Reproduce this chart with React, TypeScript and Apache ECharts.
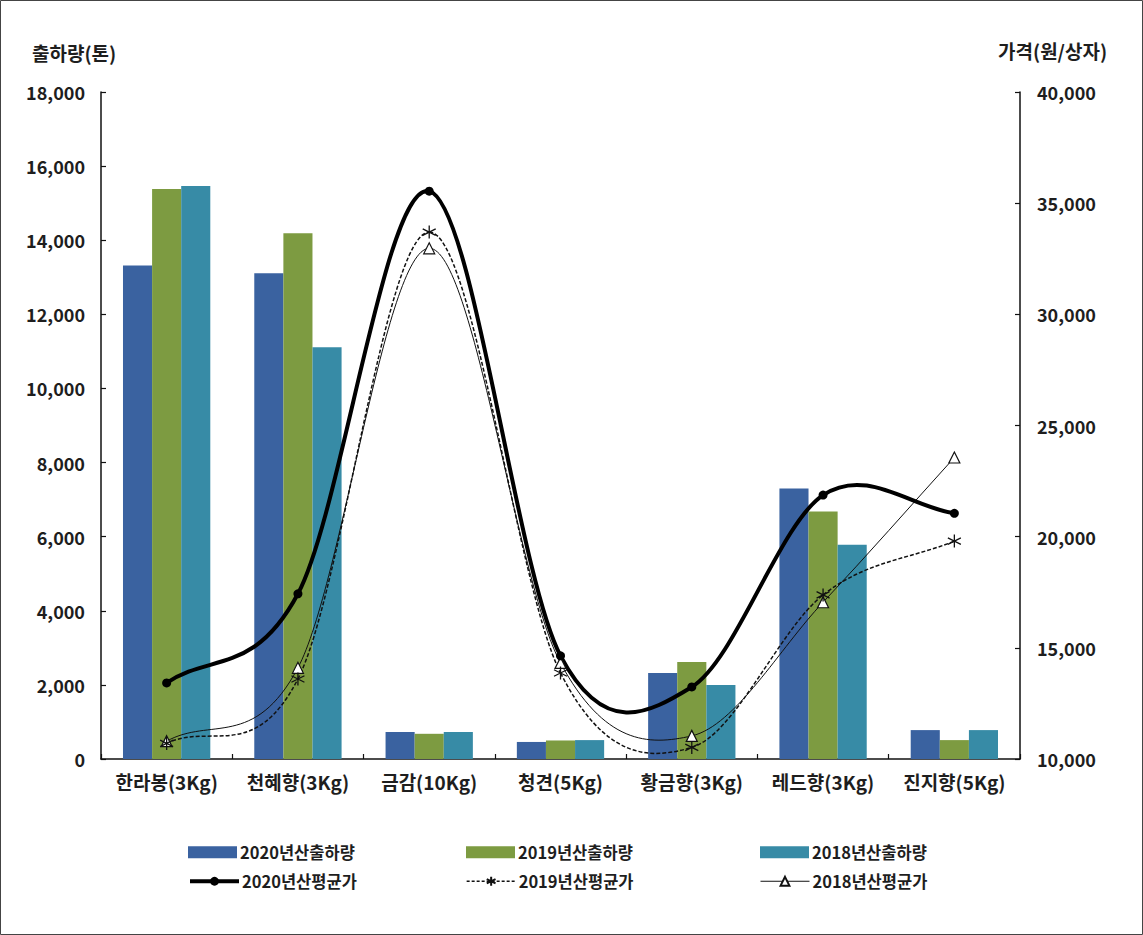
import React, { useEffect, useRef } from 'react';
import * as echarts from 'echarts';

const categories = ['한라봉(3Kg)', '천혜향(3Kg)', '금감(10Kg)', '청견(5Kg)', '황금향(3Kg)', '레드향(3Kg)', '진지향(5Kg)'];
const ship2020 = [13320, 13110, 730, 460, 2320, 7300, 780];
const ship2019 = [15380, 14190, 680, 500, 2620, 6680, 510];
const ship2018 = [15460, 11110, 730, 510, 2000, 5780, 780];
const price2020 = [13420, 17430, 35540, 14640, 13240, 21870, 21050];
const price2019 = [10700, 13600, 33700, 13870, 10520, 17380, 19800];
const price2018 = [10800, 14100, 32970, 14320, 11040, 17050, 23560];

const seriesNames = ['2020년산출하량', '2019년산출하량', '2018년산출하량', '2020년산평균가', '2019년산평균가', '2018년산평균가'];
const leftAxisName = '출하량(톤)';
const rightAxisName = '가격(원/상자)';

const FONT = '"Noto Sans CJK KR", "Noto Sans", sans-serif';
const TXT = '#1e1e1e';

// Catmull-Rom style spline segments (Excel-like smoothing) drawn through the chart's own scales
function splineSeries(values: number[], style: any, z: number) {
  return {
    type: 'custom',
    yAxisIndex: 1,
    silent: true,
    z,
    data: values.map((v, i) => [i, v]),
    encode: { x: 0, y: 1 },
    renderItem: (params: any, api: any) => {
      const i = params.dataIndex;
      const n = values.length;
      if (i >= n - 1) return null;
      const p = (k: number) => api.coord([k, values[k]]);
      const p0 = p(i);
      const p1 = p(i + 1);
      const prev = i > 0 ? p(i - 1) : null;
      const next = i + 2 < n ? p(i + 2) : null;
      const t0 = prev ? [(p1[0] - prev[0]) / 2, (p1[1] - prev[1]) / 2] : [p1[0] - p0[0], p1[1] - p0[1]];
      const t1 = next ? [(next[0] - p0[0]) / 2, (next[1] - p0[1]) / 2] : [p1[0] - p0[0], p1[1] - p0[1]];
      return {
        type: 'bezierCurve',
        shape: {
          x1: p0[0], y1: p0[1],
          cpx1: p0[0] + t0[0] / 3, cpy1: p0[1] + t0[1] / 3,
          cpx2: p1[0] - t1[0] / 3, cpy2: p1[1] - t1[1] / 3,
          x2: p1[0], y2: p1[1],
        },
        style: Object.assign({ fill: 'none' }, style),
      };
    },
  };
}

export default function App() {
  const ref = useRef<HTMLDivElement>(null);
  useEffect(() => {
    if (!ref.current) return;
    const chart = echarts.init(ref.current, null, { renderer: 'svg' });
    const barColors = ['#3A62A0', '#7D9B41', '#378BA6'];
    const legendPos = [
      [188, 844], [466, 844], [760, 844],
      [188, 873], [466, 873], [760, 873],
    ];
    const legendLines: any[] = [
      null, null, null,
      { color: '#000', width: 4, type: 'solid', opacity: 1 },
      { color: '#111', width: 1.3, type: [3, 2], opacity: 1 },
      { color: '#111', width: 1, type: 'solid', opacity: 1 },
    ];
    const legends = seriesNames.map((n, i) => {
      const l: any = {
        data: [n],
        left: legendPos[i][0],
        top: legendPos[i][1],
        orient: 'horizontal',
        itemWidth: 49,
        itemHeight: i < 3 ? 12 : 11,
        itemGap: 0,
        padding: 0,
        textStyle: { fontFamily: FONT, fontSize: 16.5, fontWeight: 'bold', color: TXT, padding: [0, 0, 0, -2] },
      };
      if (i < 3) l.icon = 'rect';
      else l.lineStyle = legendLines[i];
      return l;
    });
    const option: any = {
      animation: false,
      backgroundColor: '#fff',
      textStyle: { fontFamily: FONT },
      grid: { left: 101, right: 123, top: 92, bottom: 176, containLabel: false },
      legend: legends,
      graphic: [
        { type: 'rect', shape: { x: 0.5, y: 0.5, width: 1142, height: 934 }, style: { fill: 'none', stroke: '#444', lineWidth: 1 }, silent: true },
        { type: 'text', left: 32, top: 43, style: { text: leftAxisName, font: `bold 19px ${FONT}`, fill: TXT } },
        { type: 'text', left: 998, top: 41, style: { text: rightAxisName, font: `bold 19px ${FONT}`, fill: TXT } },
      ],
      xAxis: {
        type: 'category',
        data: categories,
        axisLine: { lineStyle: { color: '#111', width: 1.5 } },
        axisTick: { show: true, inside: true, length: 5, lineStyle: { color: '#111', width: 1.2 } },
        axisLabel: { interval: 0, fontSize: 19, fontWeight: 'bold', color: TXT, margin: 13, fontFamily: FONT },
        splitLine: { show: false },
      },
      yAxis: [
        {
          type: 'value', min: 0, max: 18000, interval: 2000, position: 'left',
          axisLine: { show: true, lineStyle: { color: '#111', width: 1.5 } },
          axisTick: { show: true, inside: true, length: 5, lineStyle: { color: '#111', width: 1.2 } },
          axisLabel: { fontSize: 18, fontWeight: 'bold', color: TXT, margin: 16, fontFamily: FONT },
          splitLine: { show: false },
        },
        {
          type: 'value', min: 10000, max: 40000, interval: 5000, position: 'right',
          axisLine: { show: true, lineStyle: { color: '#111', width: 1.5 } },
          axisTick: { show: true, inside: true, length: 5, lineStyle: { color: '#111', width: 1.2 } },
          axisLabel: { fontSize: 18, fontWeight: 'bold', color: TXT, margin: 17, fontFamily: FONT },
          splitLine: { show: false },
        },
      ],
      series: [
        { name: seriesNames[0], type: 'bar', data: ship2020, barGap: '0%', barCategoryGap: '33.5%', itemStyle: { color: barColors[0] } },
        { name: seriesNames[1], type: 'bar', data: ship2019, barGap: '0%', barCategoryGap: '33.5%', itemStyle: { color: barColors[1] } },
        { name: seriesNames[2], type: 'bar', data: ship2018, barGap: '0%', barCategoryGap: '33.5%', itemStyle: { color: barColors[2] } },
        splineSeries(price2018, { stroke: '#111', lineWidth: 1 }, 5),
        splineSeries(price2019, { stroke: '#111', lineWidth: 1.5, lineDash: [4, 2] }, 6),
        splineSeries(price2020, { stroke: '#000', lineWidth: 4, lineCap: 'round' }, 7),
        {
          name: seriesNames[5], type: 'line', yAxisIndex: 1, data: price2018,
          symbol: 'triangle', symbolSize: 11,
          lineStyle: { color: '#111', width: 1, opacity: 0 },
          itemStyle: { color: '#fff', borderColor: '#111', borderWidth: 1.2 },
          z: 8,
        },
        {
          name: seriesNames[4], type: 'line', yAxisIndex: 1, data: price2019,
          symbol: 'path://M5,0L5,10M0.7,2.5L9.3,7.5M0.7,7.5L9.3,2.5', symbolSize: 13,
          lineStyle: { color: '#111', width: 1.5, type: [4, 2], opacity: 0 },
          itemStyle: { color: 'rgba(0,0,0,0)', borderColor: '#111', borderWidth: 1.3 },
          z: 9,
        },
        {
          name: seriesNames[3], type: 'line', yAxisIndex: 1, data: price2020,
          symbol: 'circle', symbolSize: 9,
          lineStyle: { color: '#000', width: 4, opacity: 0 },
          itemStyle: { color: '#000' },
          z: 10,
        },
      ],
    };
    chart.setOption(option);
    return () => chart.dispose();
  }, []);
  return (
    <div
      ref={ref}
      style={{ position: 'absolute', left: 0, top: 0, width: 1143, height: 935, background: '#fff' }}
    />
  );
}
